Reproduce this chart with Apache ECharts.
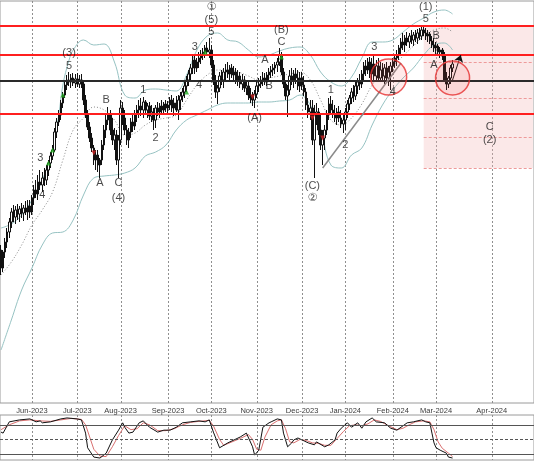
<!DOCTYPE html>
<html><head><meta charset="utf-8">
<script src="https://cdn.jsdelivr.net/npm/echarts@6/dist/echarts.min.js"></script>
<style>html,body{margin:0;padding:0;background:#fff}#c{width:534px;height:462px}</style>
</head><body><div id="c"></div>
<script>
// ---- tick labels ----
const tickLabels = ['Jun-2023','Jul-2023','Aug-2023','Sep-2023','Oct-2023','Nov-2023','Dec-2023','Jan-2024','Feb-2024','Mar-2024','Apr-2024'];
const firstDay = '2023-05-11', lastCandleDay = '2024-03-13', lastAxisDay = '2024-04-21';

// ---- candles: [open, high, low, close] ----
const candles = [
[250,255,225,232],[232,250,228,248],[248,262,242,258],[258,272,252,268],[268,282,262,278],[278,292,272,288],[288,295,278,283],[283,294,276,290],[290,296,280,286],[286,294,278,291],
[291,297,282,287],[287,295,279,292],[292,299,285,288],[288,300,280,294],[294,300,282,288],[288,305,285,302],[302,315,295,310],[310,320,302,306],[306,325,300,318],[318,330,310,315],
[315,328,308,322],[322,332,314,320],[320,335,315,330],[330,340,324,337],[337,348,332,344],[344,355,340,350],[350,372,348,368],[368,382,362,378],[378,390,374,385],[385,400,380,397],
[397,408,392,405],[405,418,402,415],[415,425,410,420],[420,428,414,418],[418,426,412,422],[422,427,414,417],[417,426,412,421],[421,427,413,416],[416,425,412,420],[420,426,412,416],
[416,418,395,400],[400,405,382,385],[385,390,370,373],[373,378,358,362],[362,367,348,352],[352,355,335,340],[340,350,330,345],[345,350,328,335],[335,342,322,340],[340,360,335,355],
[355,375,350,370],[370,385,362,380],[380,393,375,385],[385,390,365,370],[370,382,355,360],[360,372,350,365],[365,370,335,340],[340,365,322,360],[360,400,355,392],[392,398,375,382],
[382,390,365,370],[370,375,355,360],[360,372,352,368],[368,382,362,378],[378,385,368,374],[374,390,370,386],[386,395,378,390],[390,400,382,394],[394,402,384,390],[390,403,382,398],
[398,400,385,390],[390,397,382,394],[394,398,380,384],[384,395,378,388],[388,392,370,380],[380,395,372,392],[392,398,384,388],[388,397,382,394],[394,400,386,390],[390,398,385,396],
[396,400,388,392],[392,399,386,395],[395,403,390,400],[400,405,388,392],[392,402,384,397],[397,404,388,390],[390,405,380,400],[400,408,390,404],[404,412,398,408],[408,418,402,414],
[414,424,408,420],[420,430,414,426],[426,436,420,432],[432,444,426,440],[440,445,426,432],[432,442,428,438],[438,448,432,442],[442,450,436,446],[446,452,440,448],[448,455,442,452],
[452,458,444,448],[448,462,442,450],[450,455,432,435],[435,440,415,418],[418,425,402,408],[408,415,396,412],[412,428,408,424],[424,430,415,420],[420,432,412,428],[428,436,420,430],
[430,438,422,426],[426,435,420,432],[432,436,422,425],[425,434,418,428],[428,432,416,420],[420,430,414,424],[424,428,412,416],[416,426,410,420],[420,424,408,412],[412,420,405,414],
[414,418,400,405],[405,412,397,402],[402,408,394,400],[400,410,392,406],[406,418,402,414],[414,422,408,416],[416,424,412,420],[420,428,414,422],[422,427,415,418],[418,428,414,425],
[425,432,420,428],[428,434,422,430],[430,436,424,432],[432,438,426,435],[435,442,428,438],[438,452,434,445],[445,448,425,428],[428,432,412,416],[416,420,400,404],[404,415,383,410],
[410,430,405,424],[424,432,415,420],[420,430,412,426],[426,432,416,422],[422,430,410,414],[414,428,408,422],[422,428,410,415],[415,424,404,408],[408,412,390,395],[395,402,382,388],
[388,400,380,392],[392,400,355,360],[360,395,322,385],[385,397,375,388],[388,392,365,370],[370,385,350,355],[355,370,335,362],[362,375,350,370],[370,390,365,385],[385,402,380,396],
[396,404,385,390],[390,400,382,386],[386,395,378,382],[382,392,375,388],[388,394,378,382],[382,390,372,376],[376,385,367,380],[380,392,370,388],[388,400,382,396],[396,405,390,402],
[402,412,396,408],[408,415,398,404],[404,418,400,414],[414,422,406,418],[418,426,410,416],[416,430,412,426],[426,438,420,434],[434,440,424,430],[430,442,426,438],[438,443,422,426],
[426,442,418,436],[436,444,420,424],[424,440,418,434],[434,442,420,422],[422,438,418,430],[430,437,420,424],[424,436,416,432],[432,438,420,422],[422,434,414,428],[428,438,410,434],
[434,442,428,438],[438,445,432,442],[442,450,434,445],[445,455,440,452],[452,462,445,458],[458,467,450,455],[455,465,448,462],[462,468,454,458],[458,467,452,464],[464,470,456,460],
[460,468,454,465],[465,470,458,462],[462,471,456,467],[467,472,460,464],[464,473,460,470],[470,475,464,467],[467,472,460,464],[464,470,458,466],[466,468,456,459],[459,464,452,455],
[455,462,448,452],[452,458,445,454],[454,456,444,448],[448,453,442,450],[450,452,440,444],[444,448,418,420],[420,428,410,416],[416,424,412,422],[422,435,416,432],[432,440,428,436]
];

// ---- Bollinger bands: [candle index, value] ----
const upperBand = [[0,272],[5,276],[10,285],[15,300],[20,320],[25,350],[28,385],[30,415],[33,440],[35,450],[40,460],[45,455],[50,456],[55,438],[60,405],[65,402],[70,410],[75,411],[80,410],[85,409],[90,425],[95,450],[100,464],[105,467],[110,460],[115,458],[120,450],[125,443],[130,445],[135,449],[140,452],[145,453],[150,445],[155,428],[160,418],[165,414],[170,423],[175,442],[180,458],[185,458],[190,460],[195,468],[200,476],[205,482],[210,488],[215,490],[219,486]];
const lowerBand = [[0,150],[5,180],[10,210],[15,232],[20,255],[25,267],[30,268],[35,280],[40,305],[45,322],[50,324],[55,325],[60,327],[65,332],[70,344],[75,348],[80,355],[85,370],[90,380],[95,385],[100,390],[105,395],[110,397],[115,397],[120,397],[125,398],[130,398],[135,399],[140,400],[145,405],[150,395],[155,370],[160,335],[165,332],[170,345],[175,352],[180,375],[185,395],[190,410],[195,422],[200,432],[205,445],[210,455],[215,457],[219,450]];
const midBand = [[0,225],[5,238],[10,255],[15,275],[20,290],[25,308],[30,340],[35,370],[40,382],[45,393],[50,390],[55,380],[60,365],[65,367],[70,375],[75,380],[80,382],[85,385],[90,400],[95,415],[100,425],[105,430],[110,430],[115,428],[120,424],[125,420],[130,422],[135,424],[140,426],[145,428],[150,420],[155,400],[160,380],[165,375],[170,382],[175,396],[180,415],[185,428],[190,434],[195,444],[200,454],[205,464],[210,470],[215,472],[219,468]];

// ---- oscillator ----
const oscMain = [[0,65],[1,63],[4,86],[9,90],[14,92],[17,86],[19,88],[20,84],[24,86],[29,92],[32,94],[37,92],[39,90],[41,63],[42,33],[45,14],[48,12],[51,22],[54,49],[57,69],[59,84],[60,75],[62,63],[64,65],[67,84],[69,88],[72,75],[76,65],[79,69],[82,69],[85,75],[88,84],[92,86],[96,88],[99,86],[101,90],[103,65],[106,33],[110,43],[113,49],[116,55],[119,63],[122,35],[123,18],[125,28],[127,75],[130,84],[131,86],[134,92],[136,90],[137,63],[139,35],[141,43],[142,49],[144,53],[146,49],[147,47],[149,43],[152,39],[153,45],[157,35],[159,39],[162,49],[163,63],[165,73],[168,84],[170,75],[173,84],[175,73],[177,86],[180,94],[182,86],[186,84],[189,73],[192,69],[194,75],[197,84],[200,86],[204,90],[206,86],[208,84],[209,63],[210,43],[211,33],[213,28],[216,22],[217,14],[219,12]];
const oscSignal = [[0,70],[4,80],[9,88],[14,90],[19,88],[24,87],[29,90],[34,93],[39,91],[41,80],[43,55],[45,30],[48,16],[51,15],[54,35],[57,58],[60,78],[63,70],[66,72],[69,84],[72,80],[76,68],[80,68],[84,72],[88,80],[92,85],[96,87],[101,89],[103,78],[106,50],[108,38],[112,45],[116,52],[120,60],[122,50],[124,30],[126,28],[128,55],[131,80],[134,88],[136,90],[138,72],[140,45],[142,43],[145,50],[148,48],[151,43],[154,42],[157,38],[160,38],[163,52],[166,66],[169,78],[172,80],[175,78],[178,82],[181,90],[184,87],[188,78],[192,70],[195,73],[198,80],[201,86],[205,88],[208,86],[210,70],[212,45],[214,32],[217,22],[219,15]];
const oscLevels = [80, 50, 20];

// ---- levels & annotations ----
const redLevels = [474, 445, 386];
const blackLevel = 419;
const zone = {from: 205, top: 475, bottom: 332};
const zoneLevels = [438, 402, 363, 332];
const trendLine = [[156, 332], [194, 437]];
const arrowLine = [[219, 420], [223, 445]];
const circles = [[188, 423, 36], [219, 422, 34]];
const upMarks = [[23,337],[25,350],[30,405],[90,408],[99,448],[136,443]];
const downMarks = [[45,347],[122,403],[151,382],[156,362]];
const waveLabels = [
 ['(3)',33,447],['5',33,434],['3',19,342],['4',20,305],['A',48,317],['B',51,400],['C',57,317],['(4)',57,302],
 ['1',69,410],['2',75,362],['3',94,453],['4',96,415],['5',102,468],['(5)',102,480],['\u2460',102,493],
 ['(A)',123,382],['A',128,440],['B',130,414],['C',136,458],['(B)',136,470],['(C)',151,314],['\u2461',151,302],
 ['1',160,410],['2',167,355],['3',181,453],['4',190,408],['5',206,481],['(1)',206,493],['A',210,435],['B',211,464],
 ['C',237,373],['(2)',237,360]
];

// ---- categories ----
function buildDates(){
  const out=[]; const ms=86400000;
  const start=Date.parse(firstDay+'T00:00:00Z'), lc=Date.parse(lastCandleDay+'T00:00:00Z'), end=Date.parse(lastAxisDay+'T00:00:00Z');
  for(let t=start;t<=end;t+=ms){
    const wd=new Date(t).getUTCDay();
    if(t>lc || (wd!==0 && wd!==6)) out.push(new Date(t).toISOString().slice(0,10));
  }
  return out;
}
const dates = buildDates();
const MON=['Jan','Feb','Mar','Apr','May','Jun','Jul','Aug','Sep','Oct','Nov','Dec'];
const monthLabel = s => MON[+s.slice(5,7)-1]+'-'+s.slice(0,4);
const firstIdx = [];
dates.forEach((s,i)=>{ if(i>0 && s.slice(0,7)!==dates[i-1].slice(0,7) && tickLabels.includes(monthLabel(s))) firstIdx.push(i); });
const isTick = (i)=>firstIdx.indexOf(i)>=0;

const FONT = 'Liberation Sans, Arial, DejaVu Sans, Noto Sans CJK SC, sans-serif';
const chart = echarts.init(document.getElementById('c'), null, {renderer:'canvas'});

const xBase = (gi, showLabel) => ({
  type:'category', gridIndex:gi, data:dates, boundaryGap:true,
  axisLine:{show:false}, axisTick:{show:false},
  axisLabel:{show:showLabel, interval:isTick, formatter:v=>monthLabel(v), fontSize:7.5, color:'#3a3a3a', margin:4, fontFamily:FONT},
  splitLine:{show:false}
});
const Y0 = {min:97, max:499}, Y1 = {min:8, max:100};

const hLine = (v, color, width, type) => ({yAxis:v, lineStyle:{color, width, type:type||'solid'}});
const seg = (a, b, style) => [{coord:[dates[a[0]], a[1]], lineStyle:style}, {coord:[dates[b[0]], b[1]]}];

// vertical month grid lines, placed through the axis scale by a custom series
const monthGridSeries = (axisIdx, ax) => ({
  type:'custom', xAxisIndex:axisIdx, yAxisIndex:axisIdx, silent:true, z:0, clip:false,
  data:firstIdx.map(i=>[i, ax.min]),
  encode:{x:0, y:1},
  renderItem:(params, api)=>{
    const top = api.coord([api.value(0), ax.max]);
    const bot = api.coord([api.value(0), ax.min]);
    const x = Math.round(top[0]) + 0.5;
    return {type:'line', shape:{x1:x, y1:top[1], x2:x, y2:bot[1]},
            style:{stroke:'#8f8f8f', lineWidth:1, lineDash:[2,2], fill:null}};
  }
});

chart.setOption({
  animation:false,
  backgroundColor:'#fff',
  grid:[
    {left:-1, right:-1, top:1, height:402, show:true, borderColor:'#9a9a9a', borderWidth:1, backgroundColor:'transparent'},
    {left:-1, right:-1, top:415, height:45, show:true, borderColor:'#9a9a9a', borderWidth:1, backgroundColor:'transparent'}
  ],
  xAxis:[xBase(0,true), xBase(1,false)],
  yAxis:[
    {type:'value', gridIndex:0, min:Y0.min, max:Y0.max, show:false},
    {type:'value', gridIndex:1, min:Y1.min, max:Y1.max, show:false}
  ],
  series:[
    monthGridSeries(0, Y0),
    monthGridSeries(1, Y1),
    {type:'candlestick', xAxisIndex:0, yAxisIndex:0, barWidth:2,
     data:candles.map(r=>[r[0], r[3], r[2], r[1]]),
     itemStyle:{color:'#ffffff', color0:'#111', borderColor:'#111', borderColor0:'#111', borderWidth:1},
     markArea:{silent:true, itemStyle:{color:'rgba(244,185,185,0.32)'},
       data:[[{coord:[dates[zone.from], zone.top]}, {coord:[dates[dates.length-1], zone.bottom]}]]},
     markLine:{silent:true, symbol:['none','none'], label:{show:false},
       data:[
         ...zoneLevels.map(v=>seg([zone.from, v],[dates.length-1, v],{color:'#ee9a9a', width:1, type:[3,2]})),
         ...redLevels.map(v=>hLine(v,'#ff1f1f',2)),
         hLine(blackLevel,'#2a2a2a',2),
         seg(trendLine[0], trendLine[1], {color:'#8a8a8a', width:1.5, type:'solid'})
       ]}
    },
    {type:'line', xAxisIndex:0, yAxisIndex:0, data:upperBand, smooth:0.4, showSymbol:false, lineStyle:{color:'#97c3c3', width:1}, z:1},
    {type:'line', xAxisIndex:0, yAxisIndex:0, data:lowerBand, smooth:0.4, showSymbol:false, lineStyle:{color:'#97c3c3', width:1}, z:1},
    {type:'line', xAxisIndex:0, yAxisIndex:0, data:midBand, smooth:0.4, showSymbol:false, lineStyle:{color:'#8c8c8c', width:1, type:[1,2]}, z:1},
    {type:'scatter', xAxisIndex:0, yAxisIndex:0, data:upMarks, symbol:'triangle', symbolSize:5, itemStyle:{color:'#22aa22'}, z:5},
    {type:'scatter', xAxisIndex:0, yAxisIndex:0, data:downMarks, symbol:'triangle', symbolRotate:180, symbolSize:5, itemStyle:{color:'#cc2222'}, z:5},
    {type:'scatter', xAxisIndex:0, yAxisIndex:0, data:circles.map(c=>({value:[c[0],c[1]], symbolSize:c[2]})), symbol:'circle',
     itemStyle:{color:'rgba(255,90,90,0.16)', borderColor:'#e63030', borderWidth:1.5}, z:6,
     markLine:{silent:true, symbol:['none','arrow'], symbolSize:7, label:{show:false},
       data:[seg(arrowLine[0], arrowLine[1], {color:'#111', width:1, type:'solid'})]}},
    {type:'scatter', xAxisIndex:0, yAxisIndex:0, symbolSize:0, z:10,
     data:waveLabels.map(w=>({name:w[0], value:[w[1], w[2]]})),
     label:{show:true, position:'inside', formatter:'{b}', color:'#1a1a1a', fontSize:11, fontFamily:FONT}},
    {type:'line', xAxisIndex:1, yAxisIndex:1, data:oscSignal, showSymbol:false, lineStyle:{color:'#d97070', width:1},
     markLine:{silent:true, symbol:['none','none'], label:{show:false},
       data:oscLevels.map(v=>hLine(v,'#555', 1, v===50?[3,2]:'solid'))}},
    {type:'line', xAxisIndex:1, yAxisIndex:1, data:oscMain, showSymbol:false, lineStyle:{color:'#111', width:1}}
  ]
});
</script></body></html>
